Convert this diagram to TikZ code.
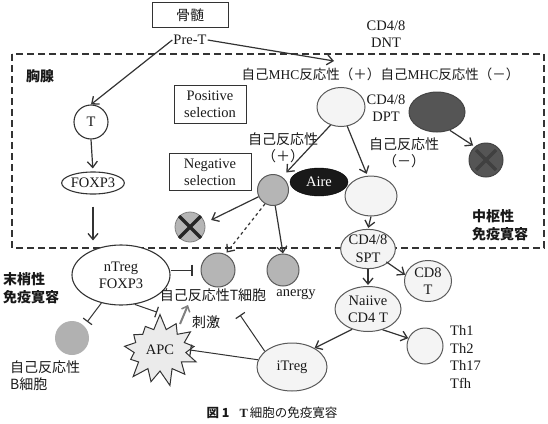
\documentclass[tikz,border=0pt]{standalone}
\usepackage{fontspec}
\setmainfont{Liberation Serif}
\newfontfamily\jp{Noto Sans CJK JP}
\usetikzlibrary{arrows.meta,shapes.geometric,shapes.symbols,calc}
\definecolor{ln}{HTML}{333333}
\definecolor{cellfill}{HTML}{F4F4F4}
\definecolor{cellline}{HTML}{5A5A5A}
\definecolor{gfill}{HTML}{B5B5B5}
\definecolor{dkfill}{HTML}{555555}
\begin{document}
\begin{tikzpicture}[x=1pt,y=-1pt,
  font=\fontsize{14.5}{17}\selectfont,
  every node/.style={text=black!90},
  jl/.style={font=\jp\fontsize{14}{17}\selectfont},
  jb/.style={font=\jp\bfseries\fontsize{14}{18}\selectfont},
  lbl/.style={align=center, inner sep=0pt},
  arr/.style={draw=ln, line width=1.2pt, -{Straight Barb[length=6pt,width=10pt,line width=1.3pt]}},
  inh/.style={draw=ln, line width=1pt, -{Bar[width=11pt,line width=1.2pt]}},
  selbox/.style={draw=ln, line width=1pt, align=center, inner sep=0pt},
  cell/.style={ellipse, draw=cellline, line width=1pt, fill=cellfill, inner sep=0pt, align=center},
  wcell/.style={ellipse, draw=ln, line width=1.1pt, fill=white, inner sep=0pt, align=center},
  gcell/.style={circle, draw=cellline, line width=1pt, fill=gfill, inner sep=0pt},
  xmark/.style={line width=3.5pt, draw=#1, line cap=butt}
]
\useasboundingbox (0,0) rectangle (548,423);

% bone marrow
\node[selbox, jl, minimum width=76pt, minimum height=25pt] (bm) at (190,15) {骨髄};
\node[inner sep=1pt] (pret) at (190,40) {Pre-T};
\node[lbl] (dnt) at (386,34) {CD4/8\\DNT};
\coordinate (dntin) at (334,61);

% thymus dashed box
\draw[ln, line width=2pt, dash pattern=on 7pt off 4pt] (12,54) rectangle (544,248);
\node[jb, inner sep=0pt] (thy) at (40,76) {胸腺};

\node[lbl, font=\fontsize{13.5}{16}\selectfont] (mhcp) at (311,74) {{\jp 自己}MHC{\jp 反応性（＋）}};
\node[lbl, font=\fontsize{13.5}{16}\selectfont] (mhcm) at (450,74) {{\jp 自己}MHC{\jp 反応性（－）}};

\node[selbox, minimum width=72pt, minimum height=38pt] (pos) at (210,104) {Positive\\selection};
\node[cell, minimum width=48pt, minimum height=39pt] (dpp) at (341,107) {};
\node[lbl] (dptl) at (386,108) {CD4/8\\DPT};
\node[ellipse, draw=dkfill!80!black, line width=1pt, fill=dkfill, minimum width=56pt, minimum height=40pt] (dpm) at (437,112) {};

\node[lbl, jl] (srp) at (283,148) {自己反応性\\（＋）};
\node[lbl, jl] (srm) at (404,153) {自己反応性\\（－）};

\node[selbox, minimum width=82pt, minimum height=37pt] (neg) at (210,172) {Negative\\selection};
\node[gcell, minimum size=31pt] (gsr) at (273,190) {};
\node[ellipse, fill=black!90, draw=black, minimum width=58pt, minimum height=28pt, inner sep=0pt, text=white] (aire) at (319,182) {Aire};
\node[cell, minimum width=52pt, minimum height=40pt] (lc) at (371,196) {};

% deleted cells
\node[circle, fill=dkfill, draw=dkfill!80!black, line width=1pt, minimum size=34pt, inner sep=0pt] (xd) at (486,160) {};
\draw[xmark=black!75] ($(xd.center)+(-10,-10)$) -- ($(xd.center)+(10,10)$);
\draw[xmark=black!75] ($(xd.center)+(-10,10)$) -- ($(xd.center)+(10,-10)$);
\node[circle, fill=gfill, draw=gray, line width=0.8pt, minimum size=30pt, inner sep=0pt] (xl) at (190,227) {};
\draw[xmark=black!85] ($(xl.center)+(-11,-11)$) -- ($(xl.center)+(11,11)$);
\draw[xmark=black!85] ($(xl.center)+(-11,11)$) -- ($(xl.center)+(11,-11)$);

\node[jb, align=left, anchor=west, inner sep=0pt] (cen) at (472,225) {中枢性\\免疫寛容};

% T lineage left
\node[wcell, circle, minimum size=34pt] (t) at (91,122) {T};
\node[wcell, minimum width=55pt, minimum height=22pt] (foxp3) at (93,183) {FOXP3};
\node[wcell, minimum width=98pt, minimum height=60pt] (ntreg) at (121,275) {nTreg\\FOXP3};
\node[jb, align=left, anchor=west, inner sep=0pt] (per) at (3,288) {末梢性\\免疫寛容};

% periphery
\node[gcell, minimum size=34pt] (srt) at (218,270) {};
\node[gcell, minimum size=32pt] (anergy) at (283,270) {};
\node[jl, inner sep=0pt] (srtl) at (213,295) {自己反応性T細胞};
\node[inner sep=0pt] (anl) at (296,294) {anergy};

\node[circle, fill=gfill!105, minimum size=34pt, inner sep=0pt] (bc) at (72,338) {};
\node[jl, align=left, anchor=west, inner sep=0pt] (bcl) at (10,376) {自己反応性\\B細胞};

\node[starburst, starburst points=13, starburst point height=16pt, random starburst=7, draw=ln, line width=1pt, fill=black!8, minimum width=84pt, minimum height=74pt, inner sep=0pt] (apc) at (160,350) {APC};
\node[jl, inner sep=0pt] (stl) at (206,322) {刺激};
\coordinate (stimA) at (180,324);
\coordinate (stimB) at (188,305);

\node[cell, minimum width=47pt, minimum height=37pt, font=\fontsize{14.5}{18}\selectfont] (spt) at (368,249) {CD4/8\\SPT};
\node[cell, minimum width=47pt, minimum height=41pt] (cd8) at (428,281) {CD8\\T};
\node[cell, minimum width=66pt, minimum height=45pt] (naive) at (368,309) {Naiive\\CD4 T};
\node[cell, circle, minimum size=36pt] (th) at (425,346) {};
\node[align=left, anchor=west, inner sep=0pt, font=\fontsize{14.5}{17.7}\selectfont] (thl) at (450,357) {Th1\\Th2\\Th17\\Tfh};
\node[cell, minimum width=70pt, minimum height=48pt] (itreg) at (292,367) {iTreg};
\coordinate (barT) at (240,315);

% caption
\node[inner sep=0pt, font=\fontsize{12.5}{14}\selectfont] (cap) at (272,413) {{\jp\bfseries 図 1}\hspace{10pt}{\bfseries T}\,{\jp 細胞の免疫寛容}};

% connectors
\draw[arr] (pret.east) -- (dntin);
\draw[arr] (pret.west) -- (t.north);
\draw[arr, shorten >=3pt] (t.south) -- (foxp3.north);
\draw[arr, shorten <=12pt, shorten >=4pt] (foxp3.south) -- (foxp3.south |- ntreg.north);
\draw[arr, shorten >=6pt] (dpp.240) -- (gsr.55);
\draw[arr, shorten >=2pt] (dpp.288) -- (lc.100);
\draw[arr, shorten >=2pt] (dpm.-55) -- (xd.130);
\draw[arr, shorten >=7pt] (gsr.205) -- (xl.15);
\draw[arr, dashed, shorten >=2pt] (gsr.240) -- (srt.65);
\draw[arr] (gsr.278) -- (anergy.north);
\draw[arr, shorten >=1pt] (lc.south) -- (spt.north);
\draw[arr, shorten >=1pt] (spt.south) -- (naive.north);
\draw[arr, shorten <=-2pt] (spt.-35) -- (cd8.165);
\draw[arr] (naive.232) -- (itreg.40);
\draw[arr] (naive.305) -- (th.155);

\draw[inh, shorten >=8pt] (ntreg.east |- srt.west) -- (srt.west);
\draw[inh, shorten >=5pt] (ntreg.235) -- (bc.45);
\draw[inh, shorten >=3pt] (ntreg.295) -- (apc.north);
\draw[inh] (itreg.150) -- (barT);
\draw[inh] (itreg.168) -- (apc.east);
\draw[draw=gray, line width=2pt, -{Straight Barb[length=5pt,width=9pt,line width=1.5pt]}] (stimA) -- (stimB);
\end{tikzpicture}
\end{document}
